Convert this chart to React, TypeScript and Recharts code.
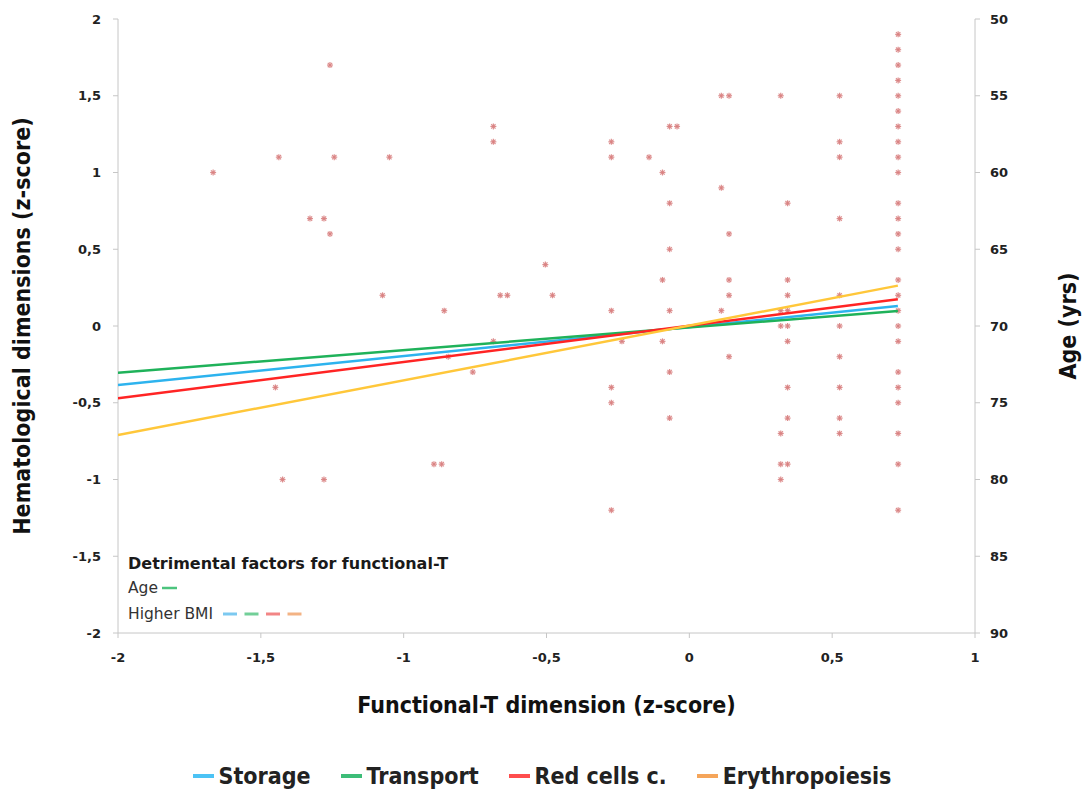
import React from 'react';
import { ScatterChart, Scatter, XAxis, YAxis, Legend } from 'recharts';

// Axis ticks
const xTicks = [-2, -1.5, -1, -0.5, 0, 0.5, 1];
const zTicks = [-2, -1.5, -1, -0.5, 0, 0.5, 1, 1.5, 2];
const ageTicks = [50, 55, 60, 65, 70, 75, 80, 85, 90];

// Fitted lines: value at the start and end of the fitted range
const fitRange = [-2, 0.73];
const storageFit = [-0.384, 0.13];
const transportFit = [-0.304, 0.098];
const redCellsFit = [-0.471, 0.174];
const erythropoiesisFit = [-0.71, 0.263];

// Observations: functional-T score with the ages recorded at that score
const ageColumns: [number, number[]][] = [
  [-1.667, [60]],
  [-1.449, [74]],
  [-1.437, [59]],
  [-1.424, [80]],
  [-1.328, [63]],
  [-1.279, [63, 80]],
  [-1.258, [53, 64]],
  [-1.243, [59]],
  [-1.074, [68]],
  [-1.05, [59]],
  [-0.894, [79]],
  [-0.867, [79]],
  [-0.858, [69]],
  [-0.844, [72]],
  [-0.758, [73]],
  [-0.686, [57, 58, 71]],
  [-0.662, [68]],
  [-0.637, [68]],
  [-0.504, [66]],
  [-0.479, [68]],
  [-0.273, [58, 59, 69, 74, 75, 82]],
  [-0.236, [71]],
  [-0.141, [59]],
  [-0.094, [60, 67, 71]],
  [-0.069, [57, 62, 65, 69, 73, 76]],
  [-0.043, [57]],
  [0.112, [55, 61, 69]],
  [0.139, [55, 64, 67, 68, 72]],
  [0.32, [55, 69, 70, 77, 79, 80]],
  [0.344, [62, 67, 68, 69, 70, 71, 74, 76, 79]],
  [0.526, [55, 58, 59, 63, 68, 70, 72, 74, 76, 77]],
  [0.731, [51, 52, 53, 54, 55, 56, 57, 58, 59, 60, 62, 63, 64, 65, 67, 68, 69, 70, 71, 73, 74, 75, 77, 79, 82]],
];

const seriesNames = ['Storage', 'Transport', 'Red cells c.', 'Erythropoiesis'];
const lineColors = ['#2db3ee', '#1fb25a', '#ff2424', '#ffc73a'];
const legendColors = ['#4cc3f5', '#3dbd78', '#ff4d4d', '#f5a55a'];
const bmiDashColors = ['#7cc9f0', '#72cf98', '#f28585', '#f3b384'];

const fits = [storageFit, transportFit, redCellsFit, erythropoiesisFit];

const points = ageColumns.flatMap(([x, ages]) => ages.map((age) => ({ x, age })));
const fitData = fits.map((f) => [
  { x: fitRange[0], z: f[0] },
  { x: fitRange[1], z: f[1] },
]);

const comma = (v: number) => String(v).replace('.', ',');

const tickStyle = {
  fill: '#222',
  fontSize: 13,
  fontWeight: 700,
  fontFamily: "'DejaVu Sans', sans-serif",
};

const titleFont = "'DejaVu Sans Condensed', 'DejaVu Sans', sans-serif";

const Asterisk = (props: any) => {
  const { cx, cy } = props;
  if (cx == null || cy == null) return <g />;
  const r = 3;
  const d = r * 0.72;
  return (
    <g stroke="#d98282" strokeWidth={1.2} strokeOpacity={0.9}>
      <line x1={cx - r} y1={cy} x2={cx + r} y2={cy} />
      <line x1={cx} y1={cy - r} x2={cx} y2={cy + r} />
      <line x1={cx - d} y1={cy - d} x2={cx + d} y2={cy + d} />
      <line x1={cx - d} y1={cy + d} x2={cx + d} y2={cy - d} />
    </g>
  );
};

const NoDot = () => <g />;

const BottomLegend = () => (
  <div
    style={{
      display: 'flex',
      justifyContent: 'center',
      alignItems: 'center',
      height: 30,
      fontFamily: titleFont,
      fontStretch: 'condensed',
      fontWeight: 700,
      fontSize: 23,
      color: '#222',
    }}
  >
    {seriesNames.map((name, i) => (
      <div key={name} style={{ display: 'flex', alignItems: 'center', marginLeft: i === 0 ? 0 : 30 }}>
        <span style={{ display: 'inline-block', width: 21, height: 3.5, background: legendColors[i], marginRight: 5 }} />
        <span>{name}</span>
      </div>
    ))}
  </div>
);

export default function App() {
  return (
    <div style={{ position: 'absolute', left: 0, top: 0, width: 1084, height: 791, background: '#fff' }}>
      <ScatterChart width={1084} height={791} margin={{ top: 19, right: 0, bottom: 0, left: 0 }}>
        <XAxis
          type="number"
          dataKey="x"
          domain={[-2, 1]}
          ticks={xTicks}
          allowDataOverflow
          tickFormatter={comma}
          height={128}
          tickSize={5}
          tickMargin={15}
          stroke="#c6c6c6"
          tick={tickStyle}
          label={{
            content: (p: any) => {
              const vb = p.viewBox;
              return (
                <text
                  x={vb.x + vb.width / 2}
                  y={vb.y + 72}
                  textAnchor="middle"
                  dominantBaseline="central"
                  fontFamily={titleFont}
                  fontWeight={700}
                  fontSize={23}
                  fill="#111"
                >
                  Functional-T dimension (z-score)
                </text>
              );
            },
          }}
        />
        <YAxis
          yAxisId="z"
          type="number"
          dataKey="z"
          domain={[-2, 2]}
          ticks={zTicks}
          allowDataOverflow
          tickFormatter={comma}
          width={118}
          tickSize={5}
          tickMargin={12}
          stroke="#c6c6c6"
          tick={tickStyle}
          label={{
            content: (p: any) => {
              const vb = p.viewBox;
              const cx = 22;
              const cy = vb.y + vb.height / 2;
              return (
                <text
                  x={cx}
                  y={cy}
                  transform={`rotate(-90 ${cx} ${cy})`}
                  textAnchor="middle"
                  dominantBaseline="central"
                  fontFamily={titleFont}
                  fontWeight={700}
                  fontSize={23}
                  fill="#111"
                >
                  Hematological dimensions (z-score)
                </text>
              );
            },
          }}
        />
        <YAxis
          yAxisId="age"
          orientation="right"
          type="number"
          dataKey="age"
          domain={[50, 90]}
          ticks={ageTicks}
          reversed
          allowDataOverflow
          width={109}
          tickSize={5}
          tickMargin={10}
          stroke="#c6c6c6"
          tick={{ ...tickStyle, textAnchor: 'start' }}
          label={{
            content: (p: any) => {
              const vb = p.viewBox;
              const cx = vb.x + 93;
              const cy = vb.y + vb.height / 2;
              return (
                <text
                  x={cx}
                  y={cy}
                  transform={`rotate(-90 ${cx} ${cy})`}
                  textAnchor="middle"
                  dominantBaseline="central"
                  fontFamily={titleFont}
                  fontWeight={700}
                  fontSize={23}
                  fill="#111"
                >
                  Age (yrs)
                </text>
              );
            },
          }}
        />
        <Scatter
          name="Age"
          yAxisId="age"
          data={points}
          shape={Asterisk}
          isAnimationActive={false}
        />
        {fitData.map((d, i) => (
          <Scatter
            key={seriesNames[i]}
            name={seriesNames[i]}
            yAxisId="z"
            data={d}
            line={{ stroke: lineColors[i], strokeWidth: 2.5 }}
            shape={NoDot}
            isAnimationActive={false}
          />
        ))}
        <Legend verticalAlign="bottom" align="center" height={30} content={() => <BottomLegend />} />
      </ScatterChart>
      <svg
        width={1084}
        height={791}
        style={{ position: 'absolute', left: 0, top: 0, pointerEvents: 'none' }}
      >
        <text x={128} y={563} dominantBaseline="central" fontFamily="'DejaVu Sans', sans-serif" fontWeight={700} fontSize={16} fill="#1a1a1a">
          Detrimental factors for functional-T
        </text>
        <text x={128} y={588} dominantBaseline="central" fontFamily="'DejaVu Sans', sans-serif" fontSize={15.5} fill="#333">
          Age
        </text>
        <line x1={162} y1={588} x2={177} y2={588} stroke="#4cc47e" strokeWidth={2.5} />
        <text x={128} y={614} dominantBaseline="central" fontFamily="'DejaVu Sans', sans-serif" fontSize={15.5} fill="#333">
          Higher BMI
        </text>
        {bmiDashColors.map((c, i) => (
          <line key={c} x1={223 + i * 21.5} y1={614} x2={237 + i * 21.5} y2={614} stroke={c} strokeWidth={3} />
        ))}
      </svg>
    </div>
  );
}
